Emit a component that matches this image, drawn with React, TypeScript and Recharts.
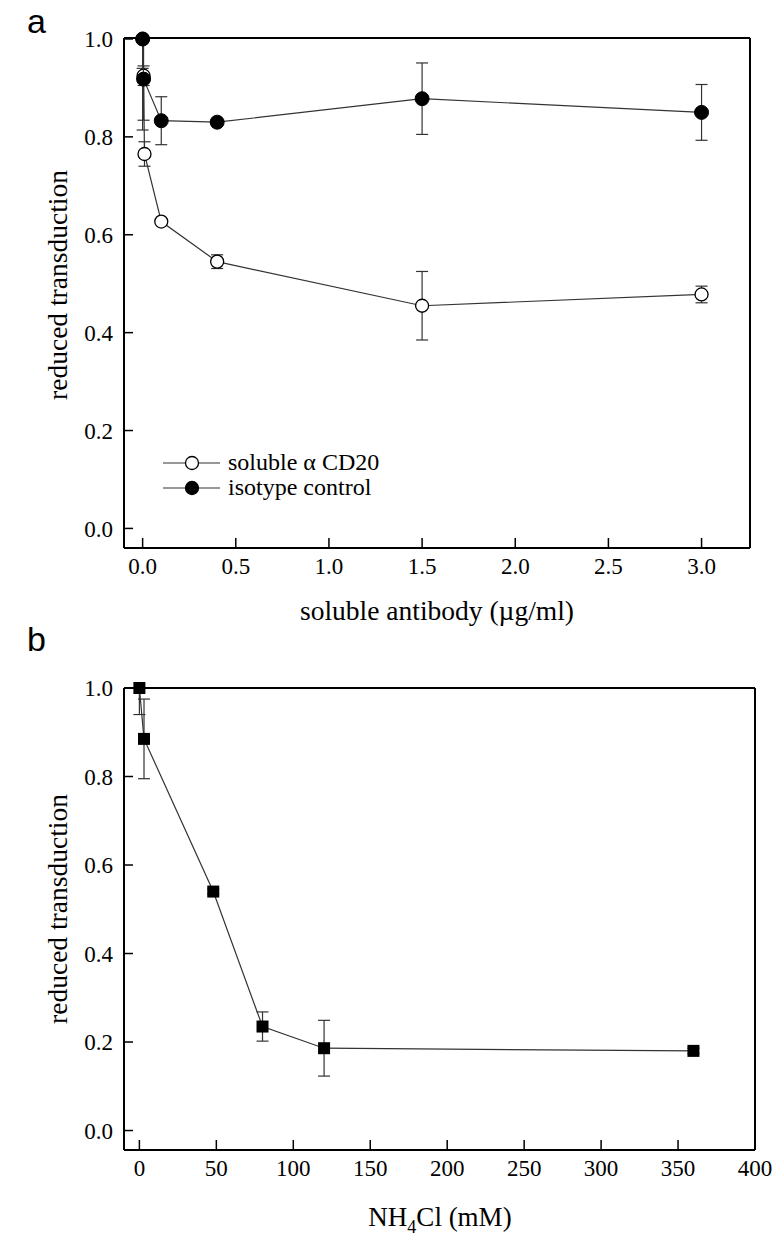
import React from "react";
import { ScatterChart, Scatter, XAxis, YAxis, ErrorBar } from "recharts";

// panel a: soluble antibody concentration (µg/ml)
const solubleX = [0, 0.005, 0.01, 0.1, 0.4, 1.5, 3.0];
const solubleY = [1.0, 0.925, 0.765, 0.627, 0.545, 0.455, 0.478];
const solubleErr: (number | number[])[] = [[0.186, 0], 0.02, 0.025, 0.006, 0.014, 0.07, 0.017];

const isotypeX = [0, 0.005, 0.1, 0.4, 1.5, 3.0];
const isotypeY = [1.0, 0.918, 0.833, 0.83, 0.878, 0.85];
const isotypeErr: (number | number[])[] = [[0.06, 0], 0.084, 0.049, 0.006, 0.073, 0.057];

// panel b: NH4Cl (mM)
const nh4clX = [0, 3, 48, 80, 120, 360];
const nh4clY = [1.0, 0.885, 0.54, 0.235, 0.186, 0.18];
const nh4clErr: (number | number[])[] = [[0.06, 0], 0.09, 0.006, 0.033, 0.063, 0.006];

const yTicks = [0, 0.2, 0.4, 0.6, 0.8, 1.0];
const antibodyTicks = [0, 0.5, 1.0, 1.5, 2.0, 2.5, 3.0];
const nh4clTicks = [0, 50, 100, 150, 200, 250, 300, 350, 400];

const toRows = (xs: number[], ys: number[], errs: (number | number[])[]) =>
  xs.map((x, i) => ({ x, y: ys[i], err: errs[i] }));

const soluble = toRows(solubleX, solubleY, solubleErr);
const isotype = toRows(isotypeX, isotypeY, isotypeErr);
const nh4cl = toRows(nh4clX, nh4clY, nh4clErr);

const INK = "#000";
const LINE = "#333";
const SERIF = "'Liberation Serif', 'Times New Roman', serif";
const SANS = "'Liberation Sans', Arial, sans-serif";
const tickStyle = { fill: INK, fontSize: 23, fontFamily: SERIF };

const OpenCircle = (p: any) => (
  <circle cx={p.cx} cy={p.cy} r={6.5} fill="#fff" stroke={INK} strokeWidth={1.3} />
);
const FilledCircle = (p: any) => (
  <circle cx={p.cx} cy={p.cy} r={7} fill={INK} stroke={INK} strokeWidth={1} />
);
const FilledSquare = (p: any) => (
  <rect x={p.cx - 6} y={p.cy - 6} width={12} height={12} fill={INK} />
);

const fmt1 = (v: number) => v.toFixed(1);

const abs = (s: React.CSSProperties): React.CSSProperties => ({ position: "absolute", ...s });

const legendItems = [
  { label: "soluble α CD20", fill: "#fff" },
  { label: "isotype control", fill: INK },
];

export default function App() {
  const axisLine = { stroke: INK, strokeWidth: 2 };
  const tickLine = { stroke: INK, strokeWidth: 1.5 };
  return (
    <div style={abs({ left: 0, top: 0, width: 784, height: 1241, background: "#fff", fontFamily: SERIF })}>
      {/* panel a */}
      <ScatterChart width={784} height={630} margin={{ top: 37, right: 33, bottom: 81, left: 123 }} style={abs({ left: 0, top: 0 })}>
        <XAxis type="number" dataKey="x" domain={[-0.1, 3.26]} ticks={antibodyTicks} tickFormatter={fmt1}
          height={1} tickSize={-10} tickMargin={20} axisLine={axisLine} tickLine={tickLine} tick={tickStyle} />
        <YAxis type="number" dataKey="y" domain={[-0.04, 1.0]} ticks={yTicks} tickFormatter={fmt1}
          width={1} tickSize={-9} tickMargin={20} axisLine={axisLine} tickLine={tickLine} tick={tickStyle} />
        <XAxis xAxisId="top" orientation="top" type="number" domain={[-0.1, 3.26]} height={1} tick={false} tickLine={false} axisLine={axisLine} />
        <YAxis yAxisId="right" orientation="right" type="number" domain={[-0.04, 1.0]} width={1} tick={false} tickLine={false} axisLine={axisLine} />
        <Scatter data={soluble} shape={OpenCircle} line={{ stroke: LINE, strokeWidth: 1.2 }} lineType="joint" isAnimationActive={false}>
          <ErrorBar dataKey="err" direction="y" width={6} stroke={LINE} strokeWidth={1.2} isAnimationActive={false} />
        </Scatter>
        <Scatter data={isotype} shape={FilledCircle} line={{ stroke: LINE, strokeWidth: 1.2 }} lineType="joint" isAnimationActive={false}>
          <ErrorBar dataKey="err" direction="y" width={6} stroke={LINE} strokeWidth={1.2} isAnimationActive={false} />
        </Scatter>
      </ScatterChart>

      <div style={abs({ left: 27, top: 2, fontFamily: SANS, fontSize: 34 })}>a</div>
      <div style={abs({ left: 58, top: 285, fontSize: 27.5, whiteSpace: "nowrap", transform: "translate(-50%, -50%) rotate(-90deg)" })}>
        reduced transduction
      </div>
      <div style={abs({ left: 437, top: 611, fontSize: 27.5, whiteSpace: "nowrap", transform: "translate(-50%, -50%)" })}>
        soluble antibody (µg/ml)
      </div>
      {/* legend */}
      <div style={abs({ left: 162, top: 450, fontSize: 24, lineHeight: "25px" })}>
        {legendItems.map((l) => (
          <div key={l.label} style={{ display: "flex", alignItems: "center", whiteSpace: "nowrap" }}>
            <svg width={60} height={20} style={{ marginRight: 6 }}>
              <line x1={1} y1={10} x2={58} y2={10} stroke={LINE} strokeWidth={1.2} />
              <circle cx={30} cy={10} r={6.5} fill={l.fill} stroke={INK} strokeWidth={1.3} />
            </svg>
            {l.label}
          </div>
        ))}
      </div>

      {/* panel b */}
      <ScatterChart width={784} height={611} margin={{ top: 57, right: 28, bottom: 90, left: 123 }} style={abs({ left: 0, top: 630 })}>
        <XAxis type="number" dataKey="x" domain={[-10, 400]} ticks={nh4clTicks}
          height={1} tickSize={-10} tickMargin={20} axisLine={axisLine} tickLine={tickLine} tick={tickStyle} />
        <YAxis type="number" dataKey="y" domain={[-0.044, 1.0]} ticks={yTicks} tickFormatter={fmt1}
          width={1} tickSize={-9} tickMargin={20} axisLine={axisLine} tickLine={tickLine} tick={tickStyle} />
        <XAxis xAxisId="top" orientation="top" type="number" domain={[-10, 400]} height={1} tick={false} tickLine={false} axisLine={axisLine} />
        <YAxis yAxisId="right" orientation="right" type="number" domain={[-0.044, 1.0]} width={1} tick={false} tickLine={false} axisLine={axisLine} />
        <Scatter data={nh4cl} shape={FilledSquare} line={{ stroke: LINE, strokeWidth: 1.2 }} lineType="joint" isAnimationActive={false}>
          <ErrorBar dataKey="err" direction="y" width={6} stroke={LINE} strokeWidth={1.2} isAnimationActive={false} />
        </Scatter>
      </ScatterChart>

      <div style={abs({ left: 27, top: 620, fontFamily: SANS, fontSize: 34 })}>b</div>
      <div style={abs({ left: 58, top: 909, fontSize: 27.5, whiteSpace: "nowrap", transform: "translate(-50%, -50%) rotate(-90deg)" })}>
        reduced transduction
      </div>
      <div style={abs({ left: 440, top: 1220, fontSize: 27, whiteSpace: "nowrap", transform: "translate(-50%, -50%)" })}>
        NH<sub style={{ fontSize: 18 }}>4</sub>Cl (mM)
      </div>
    </div>
  );
}
